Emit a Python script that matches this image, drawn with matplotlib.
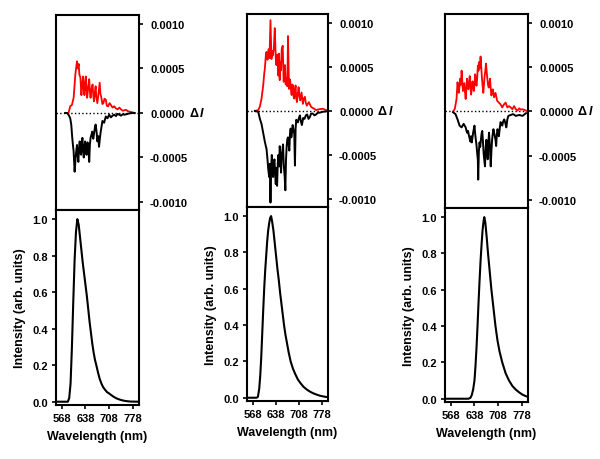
import numpy as np
import matplotlib
matplotlib.use('Agg')
import matplotlib.pyplot as plt
from matplotlib.ticker import FormatStrFormatter


plt.rcParams['font.family'] = ['Liberation Sans', 'DejaVu Sans']
plt.rcParams['font.weight'] = 'bold'
plt.rcParams['axes.labelweight'] = 'bold'
plt.rcParams['axes.linewidth'] = 1.5


# delta I values are given in units of 1e-4
SCALE = 1e-4

# panel 1
p1_wl = [583, 588, 593, 598, 603, 606, 608, 611, 613, 615, 618, 620, 623, 626, 628, 631,
         633, 635, 637, 639, 641, 643, 646, 649, 651, 653, 656, 659, 661, 663, 666, 668,
         670, 673, 676, 680, 682, 685, 688, 691, 694, 698, 701, 705, 709, 713, 718, 723,
         728, 733, 738, 743, 748, 753, 758, 763, 768, 773, 783]
p1_red = [0, 0, 0.75, 0.9, 1.7, 3.2, 4.3, 5.2, 5.8, 5.0, 5.5, 4.3, 4.0, 2.0, 3.0, 4.1,
          2.6, 2.0, 3.4, 4.1, 2.6, 1.7, 2.9, 3.8, 2.4, 1.7, 2.7, 3.2, 2.0, 1.3, 2.4, 3.0,
          1.8, 1.1, 2.0, 3.4, 2.2, 1.7, 1.0, 1.1, 1.6, 1.5, 0.8, 0.75, 1.1, 0.9, 0.6, 0.75,
          0.5, 0.4, 0.6, 0.4, 0.25, 0.3, 0.35, 0.2, 0.15, 0.1, 0]
p1_blk_wl = [578, 583, 588, 593, 596, 599, 601, 603, 606, 609, 611, 613, 615, 617, 619, 621,
             623, 625, 627, 629, 631, 633, 635, 637, 639, 641, 644, 646, 649, 651, 653, 656,
             658, 661, 663, 666, 668, 671, 673, 676, 678, 681, 683, 686, 688, 693, 698, 703,
             708, 713, 718, 723, 728, 733, 738, 743, 748, 753, 763, 773, 783]
p1_blk = [0, 0, -0.2, -0.6, -1.3, -2.8, -3.6, -4.3, -6.6, -5.0, -4.2, -3.6, -4.8, -5.5, -4.0, -3.2,
          -4.4, -4.7, -3.4, -2.8, -4.3, -5.0, -3.8, -3.2, -4.2, -4.7, -3.3, -3.6, -5.5, -3.6, -2.8, -2.4,
          -2.1, -2.9, -2.4, -1.6, -1.3, -2.2, -3.2, -2.6, -3.8, -2.7, -2.1, -1.4, -0.9, -1.1, -0.4, -0.6,
          -0.2, -0.5, -0.3, -0.2, -0.35, -0.1, -0.2, -0.3, -0.15, -0.2, -0.1, 0, 0]
p1_em_wl = [550, 570, 586, 590, 594, 598, 602, 606, 610, 614, 618, 622, 626, 630, 634, 638,
            642, 646, 650, 654, 658, 662, 666, 670, 675, 680, 685, 690, 696, 702, 708, 715,
            722, 730, 740, 750, 760, 770, 795]
p1_em = [0, 0, 0, 0.02, 0.1, 0.3, 0.55, 0.78, 0.93, 1.0, 0.97, 0.9, 0.83, 0.76, 0.7, 0.64,
         0.58, 0.51, 0.44, 0.38, 0.32, 0.27, 0.23, 0.2, 0.16, 0.125, 0.1, 0.08, 0.065, 0.052, 0.045, 0.035,
         0.026, 0.018, 0.011, 0.006, 0.003, 0.001, 0]

# panel 2
p2_wl = [575, 585, 590, 595, 600, 603, 605, 608, 610, 613, 616, 619, 622, 625, 627, 629,
         632, 635, 638, 640, 642, 644, 646, 648, 650, 652, 654, 656, 659, 662, 664, 666,
         668, 670, 673, 675, 678, 680, 682, 684, 686, 688, 690, 692, 694, 696, 698, 700,
         702, 705, 707, 710, 712, 716, 720, 723, 726, 729, 732, 738, 745, 752, 760, 770, 780, 790]
p2_red = [0, 0.1, 0.5, 1.4, 2.9, 4.2, 4.8, 6.3, 6.7, 5.8, 7.0, 6.0, 10.3, 5.9, 6.8, 6.3,
          7.0, 9.4, 6.0, 5.2, 6.4, 5.5, 4.0, 6.5, 3.5, 5.5, 4.6, 7.0, 7.4, 3.3, 4.5, 5.2,
          3.0, 3.7, 2.8, 8.5, 2.5, 3.6, 3.3, 2.4, 1.8, 3.0, 2.9, 1.6, 1.4, 2.4, 2.9, 1.5,
          1.0, 2.0, 2.7, 1.6, 1.2, 2.1, 0.8, 1.4, 1.6, 0.9, 0.6, 1.0, 0.45, 0.3, 0.1, 0.2, 0.25, 0.1]
p2_blk_wl = [575, 585, 590, 595, 600, 605, 608, 610, 613, 615, 618, 620, 622, 624, 626, 628,
             630, 632, 634, 636, 638, 640, 642, 644, 646, 648, 650, 652, 654, 656, 658, 660,
             662, 665, 667, 669, 671, 673, 675, 677, 679, 681, 683, 685, 687, 689, 691, 694,
             696, 698, 700, 705, 708, 711, 714, 717, 721, 725, 729, 733, 737, 741, 745, 750,
             755, 760, 765, 770, 780, 790]
p2_blk = [0, -0.1, -0.9, -1.5, -2.5, -3.5, -4.0, -4.3, -5.5, -6.5, -7.5, -6.0, -10.4, -6.5, -5.0, -6.2,
          -7.5, -6.0, -5.5, -7.0, -8.3, -6.5, -8.5, -6.0, -5.0, -6.3, -4.0, -5.2, -7.0, -5.0, -4.5, -3.8,
          -6.0, -7.5, -9.0, -5.5, -4.0, -3.2, -3.0, -3.8, -4.5, -2.6, -2.0, -3.0, -2.5, -1.6, -2.0, -2.6,
          -6.2, -2.0, -1.0, -1.3, -0.8, -0.5, -1.2, -1.6, -0.8, -0.9, -0.5, -0.4, -0.9, -0.7, -0.3, -0.3,
          -0.5, -0.4, -0.2, -0.2, -0.1, -0.05]
p2_em_wl = [550, 580, 584, 588, 591, 594, 597, 600, 603, 606, 609, 612, 615, 618, 621, 624,
            627, 631, 635, 639, 643, 647, 651, 655, 659, 663, 667, 672, 677, 683, 690, 697,
            705, 713, 722, 732, 742, 752, 762, 772, 782, 795]
p2_em = [0, 0, 0.005, 0.05, 0.12, 0.22, 0.35, 0.48, 0.6, 0.7, 0.78, 0.86, 0.92, 0.96, 0.99, 1.0,
         0.97, 0.92, 0.85, 0.78, 0.71, 0.65, 0.58, 0.52, 0.46, 0.4, 0.35, 0.3, 0.25, 0.2, 0.16, 0.13,
         0.1, 0.08, 0.06, 0.045, 0.033, 0.024, 0.017, 0.011, 0.007, 0.003]

# panel 3
p3_wl = [575, 580, 585, 588, 590, 592, 594, 596, 598, 600, 602, 604, 606, 608, 610, 612,
         614, 616, 618, 620, 622, 624, 626, 628, 630, 632, 634, 636, 638, 640, 642, 644,
         646, 648, 650, 652, 654, 656, 658, 660, 662, 664, 666, 668, 670, 672, 674, 676,
         678, 680, 682, 684, 686, 688, 690, 692, 694, 696, 698, 700, 705, 710, 715, 720,
         725, 730, 735, 740, 745, 750, 755, 760, 765, 770, 775, 780, 790]
p3_red = [0, 0.3, 1.4, 3.3, 2.6, 2.1, 2.9, 3.7, 3.0, 4.6, 3.4, 2.3, 2.8, 3.2, 2.2, 1.4,
          2.5, 3.7, 3.0, 2.5, 3.2, 4.0, 2.8, 1.9, 2.6, 3.4, 2.9, 2.3, 3.1, 4.2, 3.5, 2.9,
          3.8, 5.2, 4.6, 5.6, 4.9, 6.2, 5.0, 3.8, 2.9, 2.1, 3.0, 4.0, 4.6, 5.4, 4.5, 3.7,
          3.0, 2.7, 3.2, 3.7, 2.6, 1.8, 2.2, 2.5, 2.0, 1.6, 1.9, 2.1, 1.2, 1.0, 0.8, 0.45,
          0.8, 1.0, 0.45, 0.6, 0.45, 0.25, 0.6, 0.25, 0.1, 0.35, 0.2, 0.25, 0.1]
p3_blk_wl = [575, 582, 588, 594, 600, 606, 612, 616, 619, 622, 624, 626, 628, 630, 632, 634,
             636, 638, 640, 642, 644, 646, 648, 649, 651, 653, 655, 657, 659, 661, 663, 665,
             667, 669, 671, 673, 675, 677, 679, 681, 683, 686, 688, 690, 692, 694, 696, 698,
             700, 702, 704, 706, 708, 710, 713, 715, 718, 720, 723, 726, 729, 732, 735, 738,
             745, 752, 760, 770, 780, 790]
p3_blk = [-0.1, -0.3, -0.9, -1.6, -1.8, -1.4, -1.8, -2.4, -2.2, -2.8, -3.1, -3.4, -2.8, -3.5, -3.0, -2.4,
          -2.0, -1.6, -2.5, -3.2, -3.8, -4.7, -5.5, -7.7, -4.5, -3.5, -4.0, -3.2, -2.5, -2.2, -3.4, -4.7,
          -5.5, -6.2, -4.2, -3.2, -4.0, -5.4, -3.5, -2.4, -3.6, -6.2, -4.5, -3.2, -2.5, -2.0, -2.4, -2.8,
          -3.2, -3.9, -2.6, -2.0, -2.4, -2.8, -1.8, -1.2, -1.4, -1.6, -1.1, -0.9, -1.3, -1.8, -0.9, -0.5,
          -0.4, -0.3, -0.5, -0.4, -0.5, -0.2]
p3_em_wl = [550, 620, 626, 630, 634, 638, 641, 644, 647, 650, 653, 656, 659, 662, 665, 667,
            670, 674, 678, 683, 688, 694, 700, 706, 712, 720, 730, 740, 750, 760, 770, 780, 790, 796]
p3_em = [0, 0, 0.005, 0.02, 0.05, 0.1, 0.18, 0.28, 0.4, 0.53, 0.65, 0.76, 0.85, 0.93, 0.98, 1.0,
         0.97, 0.89, 0.8, 0.7, 0.6, 0.5, 0.4, 0.32, 0.26, 0.2, 0.14, 0.1, 0.07, 0.05, 0.035, 0.022, 0.014, 0.01]

X_TICKS = [568, 638, 708, 778]
DELTA_TICKS = [-0.0010, -0.0005, 0.0, 0.0005, 0.0010]
EM_TICKS = [0.0, 0.2, 0.4, 0.6, 0.8, 1.0]

PANELS = [
    dict(wl=p1_wl, red=p1_red, blk_wl=p1_blk_wl, blk=p1_blk, em_wl=p1_em_wl, em=p1_em,
         x=(56, 139), y=(16, 211, 406)),
    dict(wl=p2_wl, red=p2_red, blk_wl=p2_blk_wl, blk=p2_blk, em_wl=p2_em_wl, em=p2_em,
         x=(247, 328), y=(15, 208, 402)),
    dict(wl=p3_wl, red=p3_red, blk_wl=p3_blk_wl, blk=p3_blk, em_wl=p3_em_wl, em=p3_em,
         x=(445, 528), y=(15, 209, 403)),
]

W, H = 600, 460


def pixAxes(fig, x0, x1, y0, y1):
    return fig.add_axes([x0 / W, 1 - y1 / H, (x1 - x0) / W, (y1 - y0) / H])


def drawDelta(ax, p):
    ax.axhline(0, color='black', linestyle=':', linewidth=1.0, zorder=1)
    ax.plot(p['wl'], np.array(p['red']) * SCALE, color='#ff0000', linewidth=1.3, zorder=2)
    ax.plot(p['blk_wl'], np.array(p['blk']) * SCALE, color='black', linewidth=1.4, zorder=3)
    ax.set_xlim(551, 796)
    ax.set_ylim(-0.00109, 0.0011)

    ax.yaxis.tick_right()
    ax.set_yticks(DELTA_TICKS)
    ax.yaxis.set_major_formatter(FormatStrFormatter('%.4f'))
    ax.set_xticks([638, 708, 778])
    ax.tick_params(axis='x', labelbottom=False, direction='out', length=3, width=1.2)
    ax.tick_params(axis='y', direction='out', length=3, width=1.2, labelsize=8, pad=5)

    ax.annotate('Δ', xy=(1, 0), xycoords=ax.get_yaxis_transform(),
                xytext=(36, 0), textcoords='offset points',
                ha='left', va='center', fontsize=9, fontweight='bold')
    ax.annotate('I', xy=(1, 0), xycoords=ax.get_yaxis_transform(),
                xytext=(43.5, 0), textcoords='offset points',
                ha='left', va='center', fontsize=9, fontweight='bold', style='italic')


def drawEmission(ax, p):
    ax.plot(p['em_wl'], p['em'], color='black', linewidth=1.5)
    ax.set_xlim(551, 796)
    ax.set_ylim(-0.018, 1.05)
    ax.set_xticks(X_TICKS)
    ax.set_yticks(EM_TICKS)
    ax.yaxis.set_major_formatter(FormatStrFormatter('%.1f'))
    ax.tick_params(direction='out', length=3, width=1.2, labelsize=8, pad=3)
    ax.set_xlabel('Wavelength (nm)', fontsize=9, labelpad=5)
    ax.set_ylabel('Intensity (arb. units)', fontsize=9, labelpad=4)


def main():
    fig = plt.figure(figsize=(W / 100, H / 100), dpi=100)
    for p in PANELS:
        x0, x1 = p['x']
        y0, ym, y1 = p['y']
        top = pixAxes(fig, x0, x1, y0, ym)
        bottom = pixAxes(fig, x0, x1, ym, y1)
        drawDelta(top, p)
        drawEmission(bottom, p)
    fig.savefig('out.png', dpi=100)


if __name__ == '__main__':
    main()
